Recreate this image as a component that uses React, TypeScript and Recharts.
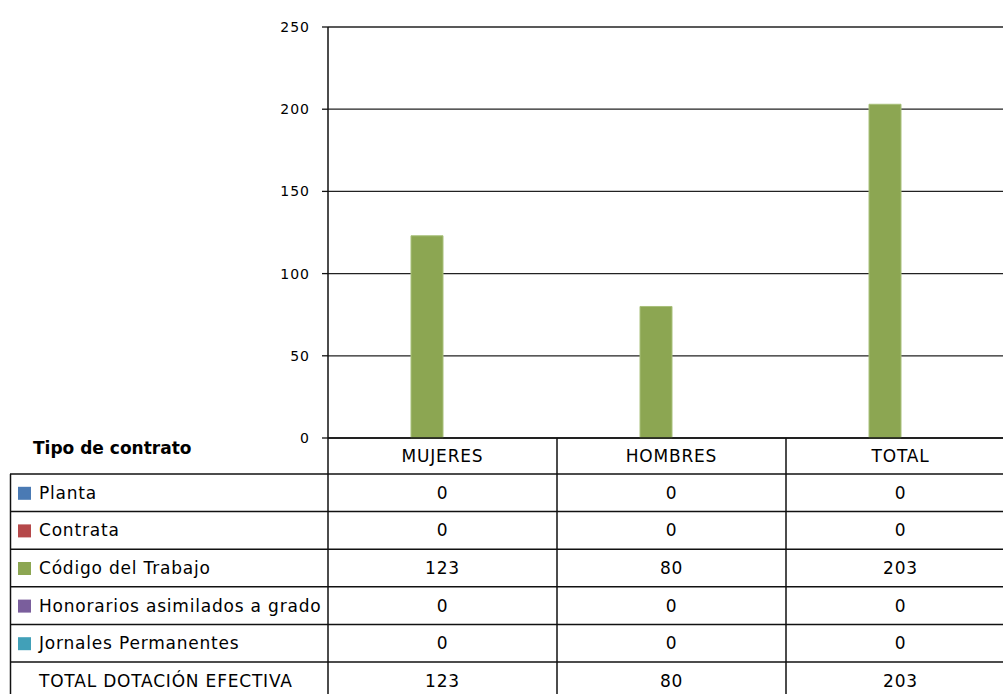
import React from 'react';
import { BarChart, Bar, XAxis, YAxis, CartesianGrid } from 'recharts';

const categories = ['MUJERES', 'HOMBRES', 'TOTAL'];
const planta = [0, 0, 0];
const contrata = [0, 0, 0];
const codigoTrabajo = [123, 80, 203];
const honorarios = [0, 0, 0];
const jornales = [0, 0, 0];
const totalDotacion = [123, 80, 203];
const yTicks = [0, 50, 100, 150, 200, 250];

const series = [
  { key: 'planta', name: 'Planta', color: '#4a7ab4', values: planta },
  { key: 'contrata', name: 'Contrata', color: '#b5484a', values: contrata },
  { key: 'codigo', name: 'Código del Trabajo', color: '#8ca652', values: codigoTrabajo },
  { key: 'honorarios', name: 'Honorarios asimilados a grado', color: '#7a5e9c', values: honorarios },
  { key: 'jornales', name: 'Jornales Permanentes', color: '#41a0b8', values: jornales },
  { key: 'total', name: 'TOTAL DOTACIÓN EFECTIVA', color: null, values: totalDotacion },
];

const data = categories.map((c, i) => {
  const row: Record<string, string | number> = { name: c };
  series.forEach((s) => { row[s.key] = s.values[i]; });
  return row;
});

const CHART_W = 1015;
const CHART_H = 694;
const M_LEFT = 268;
const Y_W = 60;
const PLOT_TOP = 27;
const PLOT_BOTTOM = 438;
const CAT_W = (CHART_W - M_LEFT - Y_W) / categories.length;
const HEADER_H = 36;
const ROW_H = 37.6;
const FONT = "'DejaVu Sans', Verdana, sans-serif";
const LINE = '#111';
const TXT = { fontFamily: FONT, fontSize: 17, letterSpacing: 0.8, fill: '#000' };

const rowTop = (i: number) => PLOT_BOTTOM + HEADER_H + i * ROW_H;

function TableColumn(props: any) {
  const { x, payload, index } = props;
  const left = x - CAT_W / 2;
  const right = x + CAT_W / 2;
  const bottom = rowTop(series.length);
  return (
    <g>
      <text x={x} y={PLOT_BOTTOM + HEADER_H / 2} textAnchor="middle" dominantBaseline="central" {...TXT}>
        {payload.value}
      </text>
      {series.map((s, i) => (
        <text key={s.key} x={x} y={rowTop(i) + ROW_H / 2} textAnchor="middle" dominantBaseline="central" {...TXT}>
          {s.values[index]}
        </text>
      ))}
      {series.map((s, i) => (
        <line key={'h' + s.key} x1={left} x2={right} y1={rowTop(i)} y2={rowTop(i)} stroke={LINE} strokeWidth={1.5} />
      ))}
      <line x1={right} x2={right} y1={PLOT_BOTTOM} y2={bottom} stroke={LINE} strokeWidth={1.5} />
      {index === 0 && (
        <g>
          <line x1={left} x2={left} y1={PLOT_BOTTOM} y2={bottom} stroke={LINE} strokeWidth={1.5} />
          <line x1={10.5} x2={10.5} y1={rowTop(0)} y2={bottom} stroke={LINE} strokeWidth={1.5} />
          <text x={33} y={PLOT_BOTTOM + 10} dominantBaseline="central" fontFamily={FONT}
            fontSize={17} fontWeight="bold" fill="#000">Tipo de contrato</text>
          {series.map((s, i) => (
            <g key={'l' + s.key}>
              <line x1={10} x2={left} y1={rowTop(i)} y2={rowTop(i)} stroke={LINE} strokeWidth={1.5} />
              {s.color && (
                <rect x={18} y={rowTop(i) + ROW_H / 2 - 6} width={13} height={13} fill={s.color} />
              )}
              <text x={39} y={rowTop(i) + ROW_H / 2} dominantBaseline="central" {...TXT}>{s.name}</text>
            </g>
          ))}
        </g>
      )}
    </g>
  );
}

export default function App() {
  return (
    <div style={{ position: 'absolute', left: 0, top: 0, width: 1003, height: 694, overflow: 'hidden', background: '#fff' }}>
      <BarChart width={CHART_W} height={CHART_H} data={data} barGap={0}
        margin={{ top: PLOT_TOP, right: 0, left: M_LEFT, bottom: 0 }}>
        <CartesianGrid vertical={false} stroke="#222" strokeWidth={1.3} />
        <XAxis dataKey="name" height={CHART_H - PLOT_BOTTOM}
          interval={0} tickLine={false} axisLine={{ stroke: LINE, strokeWidth: 1.5 }} tick={<TableColumn />} />
        <YAxis width={Y_W} domain={[0, 250]} ticks={yTicks} interval={0} tickSize={6} tickMargin={12}
          axisLine={{ stroke: LINE, strokeWidth: 1.5 }} tickLine={{ stroke: LINE, strokeWidth: 1.3 }}
          tick={{ fontFamily: FONT, fontSize: 14, letterSpacing: 1, fill: '#000' }} />
        {series.map((s) => (
          <Bar key={s.key} dataKey={s.key} name={s.name} barSize={32}
            fill={s.color ?? 'transparent'} stroke={s.color ? '#a8c07a' : 'none'}
            isAnimationActive={false} legendType="none" />
        ))}
      </BarChart>
    </div>
  );
}
